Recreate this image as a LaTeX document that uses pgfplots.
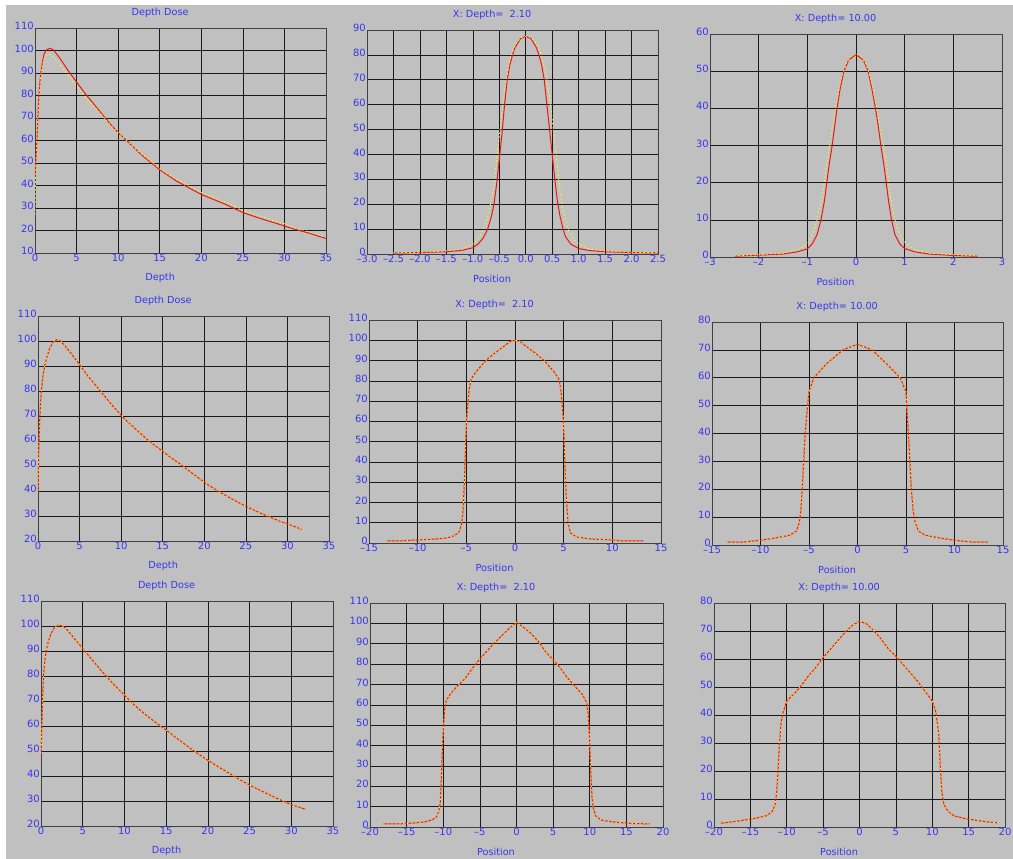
\documentclass[border=0pt]{standalone}
\usepackage{fontspec}
\setmainfont{DejaVu Sans}
\usepackage{pgfplots}
\pgfplotsset{compat=1.18}
\usepackage{pgfplotstable}
\definecolor{bg}{RGB}{192,192,192}
\definecolor{lblue}{RGB}{55,55,240}
\definecolor{cred}{RGB}{240,20,20}
\definecolor{cyel}{RGB}{255,255,0}

% ---------- Row 1 ----------
\pgfplotstableread{
x y
0.02 45
0.1 50
0.2 58
0.3 66
0.4 75
0.5 82
0.7 90
0.9 95
1.1 98.5
1.4 100.3
1.8 101
2.2 100.3
2.7 98
3 96.5
4 91
5 86
6 81
7 76.5
8 72
9 67.5
10 63.5
11 60
12 56.5
13 53
14 50
15 47
16 44.5
17 42
18 40
19 38
20 36
21 34.5
22 33
23 31.5
24 29.7
25 28
26 26.7
27 25.5
28 24.3
29 23.2
30 22
31 20.8
32 19.8
33 18.8
34 17.6
35 16.5
}\ddAred
\pgfplotstableread{
x y
0 27
0.02 35
0.1 48
0.2 60
0.3 68
0.5 80
0.7 89
0.9 94
1.2 97.5
1.5 98.5
1.9 98
2.5 96
3 93.5
4 89
5 84
6 79.5
7 75.5
8 71.5
9 67
10 63.5
11 60
12 56.5
13 53.5
14 50.5
15 47.5
16 45
17 43
18 41
19 39
20 37
21 35.5
22 34
23 32.5
24 31
25 29
26 27.7
27 26.5
28 25.3
29 24
30 23
31 21.5
32 20.5
33 19.3
34 18.2
35 17
}\ddAyel
\pgfplotstableread{
x y
-2.5 0.4
-2.0 0.6
-1.5 0.9
-1.2 1.5
-1.0 2.5
-0.9 4
-0.8 6.5
-0.72 10
-0.65 15
-0.6 20
-0.55 28
-0.5 38
-0.45 48
-0.4 60
-0.35 70
-0.3 76
-0.25 80
-0.2 83
-0.1 86.5
0 87.5
0.1 86.5
0.2 83
0.25 80
0.3 76
0.35 70
0.4 60
0.45 50
0.5 40
0.55 30
0.6 21
0.65 15
0.7 10.5
0.75 7
0.85 4
1.0 2.2
1.2 1.4
1.5 0.9
2.0 0.6
2.5 0.4
}\pAred
\pgfplotstableread{
x y
-2.5 0.5
-2.0 0.7
-1.5 1.2
-1.2 2
-1.0 4
-0.9 6
-0.8 10
-0.7 16
-0.6 28
-0.55 38
-0.5 47
-0.45 57
-0.4 66
-0.35 72
-0.3 78
-0.2 84
-0.1 86.8
0.02 87.5
0.1 87
0.2 84.5
0.3 80
0.4 70
0.45 63
0.5 54
0.55 44
0.6 35
0.65 25
0.7 18
0.8 10
0.9 6
1.0 4
1.2 2
1.5 1.2
2.0 0.7
2.5 0.5
}\pAyel
\pgfplotstableread{
x y
-2.5 0.2
-2 0.5
-1.5 0.8
-1.2 1.4
-1.0 2.2
-0.9 3.5
-0.8 6
-0.72 10
-0.65 15
-0.6 20
-0.55 25
-0.49 30
-0.44 35
-0.39 40
-0.33 45
-0.25 50
-0.15 53
0 54.5
0.15 53
0.25 50
0.33 45
0.4 40
0.46 35
0.51 30
0.57 25
0.62 20
0.67 15
0.73 10
0.8 6
0.9 3.5
1.0 2.3
1.2 1.4
1.5 0.8
2 0.4
2.5 0.2
}\qAred
\pgfplotstableread{
x y
-2.5 0.3
-2 0.6
-1.5 1
-1.2 2
-1.0 3.5
-0.9 6
-0.8 10
-0.7 16
-0.6 25
-0.54 30
-0.45 38
-0.38 43
-0.3 48
-0.2 52
-0.1 54
0 54.7
0.1 54
0.2 52
0.3 48
0.4 42
0.5 34
0.57 30
0.63 25
0.7 17
0.8 10
0.9 6
1.0 4
1.2 2
1.5 1
2 0.6
2.5 0.3
}\qAyel

% ---------- Row 2 ----------
\pgfplotstableread{
x y
0 40
0.05 48
0.1 58
0.2 68
0.3 75
0.4 80
0.6 86
0.8 90
1.1 94
1.4 97
1.8 99.5
2.2 100.5
2.7 100
3 99
4 95
5 90.5
6 86
7 82
8 78
9 74
10 70.3
11 67
12 64
13 61
14 58.3
15 55.9
16 53.3
17 51
18 48.5
19 46
20 43.5
21 41.3
22 39.3
23 37.4
24 35.6
25 33.9
26 32.3
27 30.8
28 29.4
29 28
30 26.9
31 25.6
31.7 24.6
}\ddB
\pgfplotstableread{
x y
-13.2 1
-12 1
-10 1.5
-8 2
-7 2.5
-6.3 3.5
-5.8 5
-5.5 9
-5.35 15
-5.2 30
-5.1 45
-5.0 58
-4.95 62
-4.85 68
-4.7 76
-4.5 81
-4 84.5
-3 90
-2 94
-1 97.5
-0.5 99.5
0 100
0.5 99.5
1 97.5
2 94
3 90
4 84.5
4.5 81
4.7 76
4.85 68
4.95 62
5.05 50
5.15 35
5.3 20
5.45 10
5.7 5
6.3 3
7.7 2
10 1.5
11 1
13.2 1
}\pB
\pgfplotstableread{
x y
-13.5 1
-12 1
-10 1.7
-8.5 2.5
-7 3.5
-6.3 5
-6.0 8
-5.85 12
-5.7 20
-5.55 30
-5.4 40
-5.2 48
-5.0 55
-4.5 60
-3.2 65
-1.5 70
0 72
1.5 70
3 65
4.4 60
5.0 55
5.1 48
5.25 40
5.4 30
5.55 20
5.75 12
5.95 8
6.3 5
7 3.5
8.5 2.5
10 1.7
12 1
13.5 1
}\qB

% ---------- Row 3 ----------
\pgfplotstableread{
x y
0 49
0.05 53
0.1 60
0.2 72
0.3 80
0.45 86
0.65 90.5
0.9 94
1.2 97
1.6 99.3
2.1 100.3
2.6 100
3 99
4 95
5 91
6 87
7 83
8 79.3
9 75.7
10 72.3
11 69
12 66
13 63.3
14 60.8
15 58.4
16 55.8
17 53.3
18 50.8
19 48.5
20 46.3
21 44.2
22 42.2
23 40.2
24 38.2
25 36.4
26 34.7
27 33.1
28 31.5
29 30
30 28.5
31 27.5
31.7 26.7
}\ddC
\pgfplotstableread{
x y
-18.2 1.5
-16 1.5
-14 2
-12.5 2.5
-11.5 3.5
-10.9 5
-10.6 8
-10.4 12
-10.25 25
-10.1 40
-9.95 50
-9.8 58
-9.6 62
-9 65.5
-8 69.5
-7 73
-6 78
-5 82.5
-4 86.5
-3 90.5
-2 94
-1 97.5
0 100.5
1 98
2 95
3 91
4 86
5 82
6 78
7 73
8 69
9 65
9.6 61
9.8 55
9.95 45
10.1 30
10.3 15
10.5 9
10.8 5.5
11.5 3.5
12.5 2.8
14 2.2
16 1.7
18.2 1.5
}\pC
\pgfplotstableread{
x y
-19.2 1.3
-17 2
-14.5 3
-12.8 4
-12 5.5
-11.6 8
-11.4 12
-11.2 20
-11 30
-10.8 37
-10.5 41
-10 45
-9 47.5
-8 50.5
-7 54
-6 57
-5 60.5
-4 63.5
-3 66.5
-2 69.5
-1 72
0 73.5
1 72.5
2 70
3 67
4 63.5
5 61
6 58
7 55
8 52
9 48.5
10 45
10.5 41
10.9 33
11.1 22
11.3 13
11.6 8
12.2 5.5
13 4
14.5 3
17 2
18.9 1.5
}\qC

\pgfplotsset{
  panel/.style={
    scale only axis,
    grid=major,
    grid style={black!90, line width=0.6pt},
    axis line style={black!75, line width=0.9pt},
    major tick length=0pt,
    tick label style={font=\fontsize{10}{12}\selectfont, text=lblue},
    /pgf/number format/assume math mode=true,
    yticklabel style={anchor=east, inner sep=0pt, xshift=-1pt, yshift=2pt},
    xticklabel style={anchor=north, inner sep=0pt, yshift=-1pt},
    every axis title/.style={at={(axis description cs:0.43,1)}, anchor=center, yshift=15pt, font=\fontsize{9.7}{12}\selectfont, text=lblue},
    every axis x label/.style={at={(axis description cs:0.43,0)}, anchor=center, yshift=-25pt, font=\fontsize{9.7}{12}\selectfont, text=lblue},
  },
  redl/.style={cred, line width=1pt, mark=none},
  yell/.style={cyel, line width=0.8pt, mark=none, dash pattern=on 1.5pt off 2.5pt},
  ddx/.style={xmin=0, xmax=35, xtick={0,5,...,35}, xlabel={Depth}, title={Depth Dose}},
}

\begin{document}
\begin{tikzpicture}
\useasboundingbox (0,0) rectangle (1013pt,859pt);
\fill[white] (0,0) rectangle (1013pt,859pt);
\fill[bg] (6pt,0) rectangle (1013pt,854pt);

% Row 1
\begin{axis}[panel, ddx, at={(35pt,606pt)}, anchor=south west, width=291pt, height=225pt,
  ymin=10, ymax=110, ytick={10,20,...,110}]
\addplot[redl] table {\ddAred};
\addplot[yell] table {\ddAyel};
\end{axis}

\begin{axis}[panel, at={(367pt,605pt)}, anchor=south west, width=291pt, height=224pt,
  xmin=-3, xmax=2.5, xtick={-3,-2.5,...,2.5},
  xticklabels={–3.0,–2.5,–2.0,–1.5,–1.0,–0.5,0.0,0.5,1.0,1.5,2.0,2.5},
  ymin=0, ymax=90, ytick={0,10,...,90},
  xlabel={Position}, title={X: Depth=\ \ 2.10}]
\addplot[redl] table {\pAred};
\addplot[yell] table {\pAyel};
\end{axis}

\begin{axis}[panel, at={(710pt,602pt)}, anchor=south west, width=292pt, height=223pt,
  xmin=-3, xmax=3, xtick={-3,...,3},
  xticklabels={–3,–2,–1,0,1,2,3},
  ymin=0, ymax=60, ytick={0,10,...,60},
  xlabel={Position}, title={X: Depth= 10.00}]
\addplot[redl] table {\qAred};
\addplot[yell] table {\qAyel};
\end{axis}

% Row 2
\begin{axis}[panel, ddx, at={(38pt,318pt)}, anchor=south west, width=291pt, height=225pt,
  ymin=20, ymax=110, ytick={20,30,...,110}]
\addplot[redl] table {\ddB};
\addplot[yell] table {\ddB};
\end{axis}

\begin{axis}[panel, at={(369pt,316pt)}, anchor=south west, width=292pt, height=223pt,
  xmin=-15, xmax=15, xtick={-15,-10,...,15},
  xticklabels={–15,–10,–5,0,5,10,15},
  ymin=0, ymax=110, ytick={0,10,...,110},
  xlabel={Position}, title={X: Depth=\ \ 2.10}]
\addplot[redl] table {\pB};
\addplot[yell] table {\pB};
\end{axis}

\begin{axis}[panel, at={(712pt,314pt)}, anchor=south west, width=291pt, height=223pt,
  xmin=-15, xmax=15, xtick={-15,-10,...,15},
  xticklabels={–15,–10,–5,0,5,10,15},
  ymin=0, ymax=80, ytick={0,10,...,80},
  xlabel={Position}, title={X: Depth= 10.00}]
\addplot[redl] table {\qB};
\addplot[yell] table {\qB};
\end{axis}

% Row 3
\begin{axis}[panel, ddx, at={(41pt,33pt)}, anchor=south west, width=292pt, height=225pt,
  ymin=20, ymax=110, ytick={20,30,...,110}]
\addplot[redl] table {\ddC};
\addplot[yell] table {\ddC};
\end{axis}

\begin{axis}[panel, at={(370pt,32pt)}, anchor=south west, width=293pt, height=224pt,
  xmin=-20, xmax=20, xtick={-20,-15,...,20},
  xticklabels={–20,–15,–10,–5,0,5,10,15,20},
  ymin=0, ymax=110, ytick={0,10,...,110},
  xlabel={Position}, title={X: Depth=\ \ 2.10}]
\addplot[redl] table {\pC};
\addplot[yell] table {\pC};
\end{axis}

\begin{axis}[panel, at={(714pt,32pt)}, anchor=south west, width=291pt, height=224pt,
  xmin=-20, xmax=20, xtick={-20,-15,...,20},
  xticklabels={–20,–15,–10,–5,0,5,10,15,20},
  ymin=0, ymax=80, ytick={0,10,...,80},
  xlabel={Position}, title={X: Depth= 10.00}]
\addplot[redl] table {\qC};
\addplot[yell] table {\qC};
\end{axis}
\end{tikzpicture}
\end{document}
